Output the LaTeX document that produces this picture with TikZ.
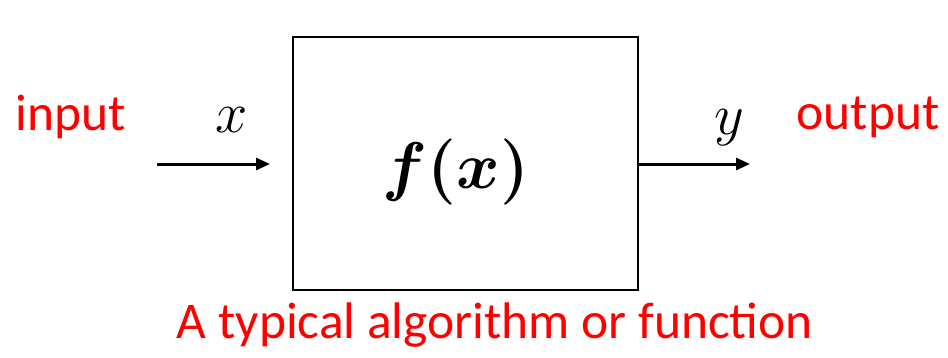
\RequirePackage{fix-cm}
\documentclass[tikz,border=0pt]{standalone}
\usepackage{amsmath,amssymb}
\usepackage{bm}
\usepackage{fontspec}
\setmainfont{Carlito}
\usetikzlibrary{arrows.meta,positioning}
\definecolor{labelred}{RGB}{255,0,0}

\begin{document}
\begin{tikzpicture}[x=1pt,y=-1pt,>={Triangle[length=14pt,width=12pt]},line cap=butt]
\useasboundingbox (0,0) rectangle (948,357);
\tikzset{
 redtext/.style={text=labelred,font=\fontsize{51.5}{60}\selectfont,inner sep=0pt},
 mathlabel/.style={font=\fontsize{58}{64}\selectfont,inner sep=0pt},
 funcbox/.style={draw,line width=2.2pt,minimum width=345pt,minimum height=253pt,inner sep=0pt}
}
\node[funcbox] (func) at (465.5,163.5) {};
\node[inner sep=0pt] (ftext) at (456,172) {\fontsize{66}{72}\selectfont$\bm{f(x)}$};
\coordinate (xstart) at (157,164);
\coordinate (xend) at (270,164);
\coordinate (yend) at (750,164);
\draw[->,line width=3pt] (xstart)--(xend);
\draw[->,line width=3pt] (func.east|-xend)--(yend);
\node[redtext] (input) at (71,117) {input};
\node[redtext] (output) at (868,117) {output};
\node[mathlabel] (xlab) at (232,120) {$x$};
\node[mathlabel] (ylab) at (729,128) {$y$};
\node[redtext] (caption) at (495,325) {A typical algorithm or function};
\end{tikzpicture}
\end{document}
